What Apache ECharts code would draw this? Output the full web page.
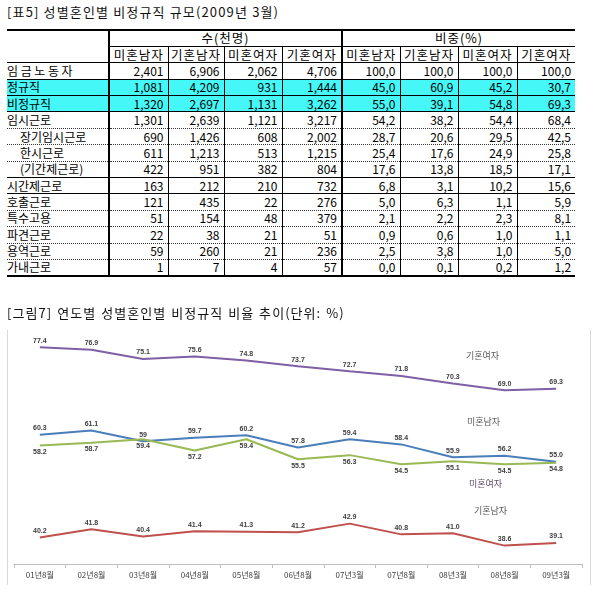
<!DOCTYPE html>
<html><head><meta charset="utf-8">
<script src="https://cdn.jsdelivr.net/npm/echarts@6/dist/echarts.min.js"></script>
<style>
html,body{margin:0;padding:0;background:#fff;width:598px;height:605px;overflow:hidden;}
.ttl{position:absolute;left:7px;font:13px 'Noto Sans CJK KR';color:#111;white-space:pre;line-height:18px}
#t1{top:3px;letter-spacing:1.15px}
#t2{top:304px;letter-spacing:1.05px;word-spacing:1px;z-index:2}
table{position:absolute;left:7px;top:29px;border-collapse:collapse;table-layout:fixed;font:12px 'Noto Sans CJK KR';color:#000}
td{padding:0 4px 0 0;line-height:14px;white-space:nowrap;overflow:hidden;text-align:right;}
tr{height:16.4px}
tr.h td{text-align:center;padding:0;letter-spacing:1px;font-size:12.5px}
td.lab{text-align:left;padding:0}
td.ind{padding-left:13px}
td.wide{letter-spacing:2.6px}
tr.cy td{background:#45f7f7}
#chart{position:absolute;left:0;top:300px;width:598px;height:305px}
</style></head>
<body>
<div id="t1" class="ttl"></div>
<table id="tbl"></table>
<div id="chart"></div>
<div id="t2" class="ttl"></div>
<script>
// ---- table data ----
const tableTitle = '[표5] 성별혼인별 비정규직 규모(2009년 3월)';
const groupHeaders = ['수(천명)', '비중(%)'];
const colHeaders = ['미혼남자', '기혼남자', '미혼여자', '기혼여자'];
const rowLabels = ['임금노동자','정규직','비정규직','임시근로','장기임시근로','한시근로','(기간제근로)','시간제근로','호출근로','특수고용','파견근로','용역근로','가내근로'];
const cntSingleMale   = [2401,1081,1320,1301,690,611,422,163,121,51,22,59,1];
const cntMarriedMale  = [6906,4209,2697,2639,1426,1213,951,212,435,154,38,260,7];
const cntSingleFemale = [2062,931,1131,1121,608,513,382,210,22,48,21,21,4];
const cntMarriedFemale= [4706,1444,3262,3217,2002,1215,804,732,276,379,51,236,57];
const pctSingleMale   = [100.0,45.0,55.0,54.2,28.7,25.4,17.6,6.8,5.0,2.1,0.9,2.5,0.0];
const pctMarriedMale  = [100.0,60.9,39.1,38.2,20.6,17.6,13.8,3.1,6.3,2.2,0.6,3.8,0.1];
const pctSingleFemale = [100.0,45.2,54.8,54.4,29.5,24.9,18.5,10.2,1.1,2.3,1.0,1.0,0.2];
const pctMarriedFemale= [100.0,30.7,69.3,68.4,42.5,25.8,17.1,15.6,5.9,8.1,1.1,5.0,1.2];
const highlightRows = [1,2];
const indentRows = [4,5,6];
const dashedAfter = [3,4,5,8,9,10,11];

// ---- chart data ----
const chartTitle = '[그림7] 연도별 성별혼인별 비정규직 비율 추이(단위: %)';
const categories = ['01년8월','02년8월','03년8월','04년8월','05년8월','06년8월','07년3월','07년8월','08년3월','08년8월','09년3월'];
const marriedFemale = [77.4,76.9,75.1,75.6,74.8,73.7,72.7,71.8,70.3,69.0,69.3];
const singleMale    = [60.3,61.1,59.0,59.7,60.2,57.8,59.4,58.4,55.9,56.2,55.0];
const singleFemale  = [58.2,58.7,59.4,57.2,59.4,55.5,56.3,54.5,55.1,54.5,54.8];
const marriedMale   = [40.2,41.8,40.4,41.4,41.3,41.2,42.9,40.8,41.0,38.6,39.1];
const singleMaleLabelOverride = {2: '59'};

document.getElementById('t1').textContent = tableTitle;
document.getElementById('t2').textContent = chartTitle;

// ---- build table ----
const colW = [102,59,56,58,60,58,58,59,58];
const B = '1px solid #000', B2 = '2px solid #000', BD = '1px dotted #333';
const tbl = document.getElementById('tbl');
const cg = document.createElement('colgroup');
colW.forEach(w => { const c = document.createElement('col'); c.style.width = w + 'px'; cg.appendChild(c); });
tbl.appendChild(cg);
tbl.style.width = colW.reduce((a,b)=>a+b,0) + 'px';
function td(tr, text, cls, style) {
  const c = document.createElement('td');
  c.textContent = text;
  if (cls) c.className = cls;
  Object.assign(c.style, style || {});
  tr.appendChild(c);
  return c;
}
let tr = document.createElement('tr'); tr.className = 'h';
let c0 = td(tr, '', 'lab', {borderTop: B2, borderRight: B2, borderBottom: B}); c0.rowSpan = 2;
let g1 = td(tr, groupHeaders[0], '', {borderTop: B2, borderRight: B2, borderBottom: B}); g1.colSpan = 4;
let g2 = td(tr, groupHeaders[1], '', {borderTop: B2, borderBottom: B}); g2.colSpan = 4;
tbl.appendChild(tr);
tr = document.createElement('tr'); tr.className = 'h';
for (let g = 0; g < 2; g++) colHeaders.forEach((h, i) => {
  const br = i === 3 ? (g === 0 ? B2 : 'none') : B;
  td(tr, h, '', {borderRight: br, borderBottom: B});
});
tbl.appendChild(tr);
const cnt = [cntSingleMale, cntMarriedMale, cntSingleFemale, cntMarriedFemale];
const pct = [pctSingleMale, pctMarriedMale, pctSingleFemale, pctMarriedFemale];
const fmtCnt = v => v.toLocaleString('en-US');
const fmtPct = v => v.toFixed(1).replace('.', ',');
rowLabels.forEach((lab, r) => {
  const row = document.createElement('tr');
  if (highlightRows.includes(r)) row.className = 'cy';
  const bb = r === rowLabels.length - 1 ? B2 : (dashedAfter.includes(r) ? BD : B);
  td(row, lab, 'lab' + (indentRows.includes(r) ? ' ind' : '') + (r === 0 ? ' wide' : ''), {borderRight: B2, borderBottom: bb});
  cnt.forEach((arr, i) => td(row, fmtCnt(arr[r]), '', {borderRight: i === 3 ? B2 : B, borderBottom: bb}));
  pct.forEach((arr, i) => td(row, fmtPct(arr[r]), '', {borderRight: i === 3 ? 'none' : B, borderBottom: bb}));
  tbl.appendChild(row);
});

// ---- chart ----
const chart = echarts.init(document.getElementById('chart'));
const lblBase = {show: true, fontSize: 7, fontWeight: 'bold', color: '#404040', fontFamily: 'Liberation Sans', distance: 3,
  formatter: p => p.value.toFixed(1)};
function mkSeries(name, data, color, pos, override) {
  return {
    name, type: 'line', symbol: 'circle', symbolSize: 0.01, showSymbol: true,
    data: data.map((v, i) => (override && override[i] !== undefined)
      ? {value: v, label: {formatter: override[i]}} : v),
    lineStyle: {width: 2, color}, itemStyle: {color},
    label: Object.assign({}, lblBase, {position: pos}),
    labelLayout: {hideOverlap: false},
    emphasis: {disabled: true}
  };
}
const annot = (text, left, top, fill) => ({type: 'text', left, top,
  style: {text, fontSize: 9, fill: fill || '#595959', fontFamily: 'Noto Sans CJK KR'}});
chart.setOption({
  animation: false,
  grid: {left: 14, right: 16, top: 34, bottom: 41},
  xAxis: {type: 'category', data: categories, boundaryGap: true,
    axisLine: {lineStyle: {color: '#bfbfbf', width: 1}},
    axisTick: {show: true, length: 4, lineStyle: {color: '#bfbfbf'}},
    axisLabel: {interval: 0, fontSize: 8, color: '#404040', margin: 7, fontFamily: 'Noto Sans CJK KR'}},
  yAxis: {type: 'value', min: 35, max: 80, show: false, splitLine: {show: false}},
  series: [
    mkSeries('기혼여자', marriedFemale, '#7f5fa6', 'top'),
    mkSeries('미혼남자', singleMale, '#4a7ebb', 'top', singleMaleLabelOverride),
    mkSeries('미혼여자', singleFemale, '#98b954', 'bottom'),
    mkSeries('기혼남자', marriedMale, '#c0504d', 'top')
  ],
  graphic: [
    {type: 'line', shape: {x1: 7.5, y1: 30, x2: 7.5, y2: 285}, style: {stroke: '#d9d9d9', lineWidth: 1}},
    {type: 'line', shape: {x1: 590.5, y1: 30, x2: 590.5, y2: 285}, style: {stroke: '#d9d9d9', lineWidth: 1}},
    annot('기혼여자', 466, 51),
    annot('미혼남자', 467, 117),
    annot('미혼여자', 469, 179, '#5b4d6b'),
    annot('기혼남자', 474, 206)
  ]
});
</script>
</body></html>
